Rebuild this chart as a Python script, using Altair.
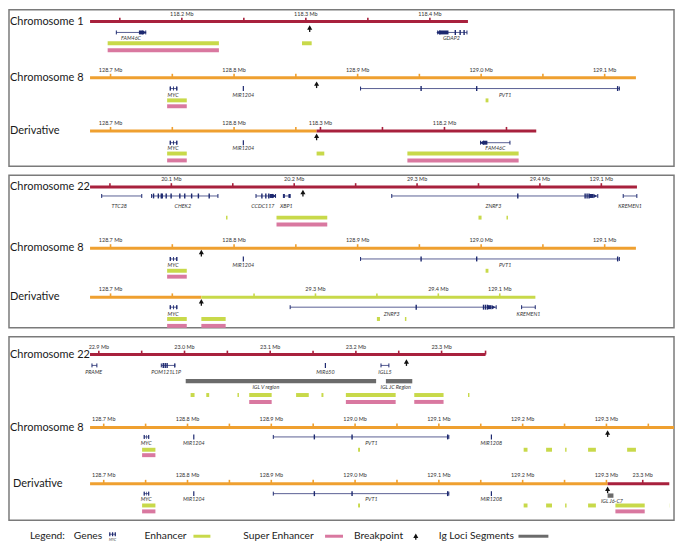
import altair as alt
import pandas as pd

# ---------------- colours ----------------
RED = "#a8213d"
ORANGE = "#efa030"
LIME = "#c8d94a"
PINK = "#d978a0"
NAVY = "#1d2970"
GENE_LINE = "#5a6094"
IG_GREY = "#6b6b6b"
FONT = "Lato"

# ================= DATA (genomic positions in Mb) =================
# ---- chromosome 1 ----
CHR1_TICKS = [118.15, 118.20, 118.25, 118.30, 118.35, 118.40]
CHR1_TICK_LABELS = ["", "118.2 Mb", "", "118.3 Mb", "", "118.4 Mb"]
CHR1_GENES = [("FAM46C", 118.1472, 118.1709, 118.1590),
              ("GDAP2", 118.4063, 118.4299, 118.4173)]
CHR1_EXONS = [118.4205, 118.4244, 118.4276]
CHR1_BLOCKS = [(118.1654, 118.1690, 118.1699, "+"),
               (118.4074, 118.4150, 118.4068, "-")]
CHR1_ENHANCERS = [(118.1402, 118.2299), (118.2969, 118.3047)]
CHR1_SUPER_ENHANCERS = [(118.1402, 118.2299)]

# ---- chromosome 8 ----
CHR8_TICKS = [128.70, 128.75, 128.80, 128.85, 128.90, 128.95, 129.00,
              129.05, 129.10, 129.15, 129.20, 129.25, 129.30, 129.35]
CHR8_TICK_LABELS = ["128.7 Mb", "", "128.8 Mb", "", "128.9 Mb", "", "129.0 Mb",
                    "", "129.1 Mb", "", "129.2 Mb", "", "129.3 Mb", ""]
CHR8_GENES = [("MYC", 128.7482, 128.7538, 128.7506),
              ("MIR1204", 128.8075, 128.8075, 128.8075),
              ("PVT1", 128.9024, 129.1119, 129.0194),
              ("MIR1208", 129.1627, 129.1627, 129.1627)]
CHR8_EXONS = [128.9514, 128.9964, 129.1105]
CHR8_BLOCKS = [(128.7482, 128.7489, 0, ""), (128.7506, 128.7513, 0, ""),
               (128.7531, 128.7538, 0, "")]
CHR8_ENHANCERS = [(128.7458, 128.7617), (129.0036, 129.0059), (129.2012, 129.2058),
                  (129.2280, 129.2350), (129.2507, 129.2524), (129.2781, 129.2874),
                  (129.3247, 129.3352)]
CHR8_SUPER_ENHANCERS = [(128.7458, 128.7617)]

# ---- chromosome 22 ----
CHR22_TICKS = [29.05, 29.10, 29.15, 29.20, 29.25, 29.30, 29.35, 29.40, 29.45,
               22.90, 22.95, 23.00, 23.05, 23.10, 23.15, 23.20, 23.25, 23.30, 23.3513]
CHR22_TICK_LABELS = ["", "20.1 Mb", "", "20.2 Mb", "", "29.3 Mb", "", "29.4 Mb", "129.1 Mb",
                     "22.9 Mb", "", "23.0 Mb", "", "23.1 Mb", "", "23.2 Mb", "", "23.3 Mb", ""]
CHR22_GENES = [("TTC28", 29.0433, 29.0759, 29.0576),
               ("CHEK2", 29.0839, 29.1379, 29.1093),
               ("CCDC117", 29.1689, 29.1848, 29.1745),
               ("XBP1", 29.1912, 29.1967, 29.1935),
               ("ZNRF3", 29.2794, 29.4471, 29.3621),
               ("KREMEN1", 29.4678, 29.4789, 29.4734),
               ("PRAME", 22.8920, 22.8977, 22.8940),
               ("POM121L1P", 22.9729, 22.9889, 22.9786),
               ("MIR650", 23.1644, 23.1644, 23.1644),
               ("IGLL5", 23.2293, 23.2385, 23.2339)]
CHR22_EXONS = [29.0855, 29.0894, 29.0918, 29.0926, 29.0958, 29.0998, 29.1069,
               29.1109, 29.1165, 29.1220, 29.1308,
               29.1737, 29.1769, 29.1793,
               29.3820, 29.4368, 29.4384, 29.4400,
               22.9752, 22.9775, 22.9797]
CHR22_BLOCKS = [(29.1800, 29.1830, 29.1838, "+"),
                (29.1912, 29.1924, 0, ""), (29.1953, 29.1967, 0, ""),
                (29.4400, 29.4432, 29.4450, "+"),
                (22.9880, 22.9889, 0, "")]
CHR22_ENHANCERS = [(29.1445, 29.1457), (29.1856, 29.2269), (29.3500, 29.3525),
                   (29.3728, 29.3740),
                   (23.0071, 23.0117), (23.0254, 23.0288), (23.0618, 23.0635),
                   (23.0755, 23.1017), (23.1302, 23.1450), (23.1598, 23.1621),
                   (23.1883, 23.2464), (23.2681, 23.3023), (23.3308, 23.3325)]
CHR22_SUPER_ENHANCERS = [(29.1856, 29.2269), (23.0755, 23.1017),
                         (23.1883, 23.2464), (23.2681, 23.3023)]
CHR22_IG_SEGMENTS = [("IGL V region", 23.0014, 23.2236, 23.0949),
                     ("IGL JC Region", 23.2350, 23.2658, 23.2464)]
DERIVATIVE_IG_SEGMENTS = [("IGL J6-C7", 23.2590, 23.2658, 23.2640)]

# breakpoints
BP_CHR1 = 118.3031
BP_CHR8 = [128.8668, 128.7735, 129.3014]
BP_CHR22 = [29.2071, 23.2590]

CHROMS = {
    "chr1": dict(ticks=CHR1_TICKS, labels=CHR1_TICK_LABELS, genes=CHR1_GENES,
                 exons=CHR1_EXONS, blocks=CHR1_BLOCKS, enh=CHR1_ENHANCERS,
                 se=CHR1_SUPER_ENHANCERS, ig=[]),
    "chr8": dict(ticks=CHR8_TICKS, labels=CHR8_TICK_LABELS, genes=CHR8_GENES,
                 exons=CHR8_EXONS, blocks=CHR8_BLOCKS, enh=CHR8_ENHANCERS,
                 se=CHR8_SUPER_ENHANCERS, ig=[]),
    "chr22": dict(ticks=CHR22_TICKS, labels=CHR22_TICK_LABELS, genes=CHR22_GENES,
                  exons=CHR22_EXONS, blocks=CHR22_BLOCKS, enh=CHR22_ENHANCERS,
                  se=CHR22_SUPER_ENHANCERS, ig=CHR22_IG_SEGMENTS),
}

# ================= LAYOUT =================
W = 667
ID = (0.0, 0.0, 1.0)  # identity alignment onto the chr8 panel axis


def track(name, y, segs, bp, nx=1, dt=-8, dg=11, dl=17, de=23, ds=29.5, da=6,
          dig=27, digl=33):
    return dict(name=name, y=y, segs=segs, bp=bp, nx=nx, dt=dt, dg=dg, dl=dl,
                de=de, ds=ds, da=da, dig=dig, digl=digl)


PANELS = [
    dict(domain=(128.61779, 129.15613), ref_h=159, height=157, tracks=[
        track("Chromosome 1", 12, [("chr1", 118.126, 118.4307, RED, (128.8581, 118.3, 1.004))],
              (0, BP_CHR1), dg=11, dl=16.5, de=22, ds=29),
        track("Chromosome 8", 69, [("chr8", 128.6834, 129.1253, ORANGE, ID)],
              (0, BP_CHR8[0]), dg=11, dl=17.5, de=23, ds=29),
        track("Derivative", 123, [("chr8", 128.6834, BP_CHR8[0], ORANGE, ID),
                                  ("chr1", 118.126, BP_CHR1, RED, (BP_CHR8[0], BP_CHR1, -1.004))],
              (0, BP_CHR8[0]), dg=12, dl=17.5, de=23, ds=30, da=5),
    ]),
    dict(domain=(128.61779, 129.15613), ref_h=155, height=153, tracks=[
        track("Chromosome 22", 12, [("chr22", 29.0338, 29.479, RED, (128.8984, 29.25, 0.9945))],
              (0, BP_CHR22[0]), dg=9, dl=19, de=31, ds=38, da=5),
        track("Chromosome 8", 74, [("chr8", 128.6834, 129.1253, ORANGE, ID)],
              (0, BP_CHR8[1]), dg=11, dl=17.5, de=23, ds=29, da=4),
        track("Derivative", 124, [("chr8", 128.6834, BP_CHR8[1], ORANGE, ID),
                                  ("chr22", BP_CHR22[0], 29.479, LIME, (BP_CHR8[1], BP_CHR22[0], 0.9945))],
              (0, BP_CHR8[1]), dg=10, dl=17, de=22, ds=29, da=4),
    ]),
    dict(domain=(128.58695, 129.38065), ref_h=186, height=184, tracks=[
        track("Chromosome 22", 18, [("chr22", 22.8897, 23.3513, RED, (128.69417, 22.9, 1.0227))],
              (0, BP_CHR22[1]), dg=11, dl=18, de=41, ds=48, da=7, dig=27, digl=33),
        track("Chromosome 8", 92, [("chr8", 128.6837, 129.38065, ORANGE, ID)],
              (0, BP_CHR8[2]), dt=-9, dg=9.5, dl=16, de=22.5, ds=28, da=5),
        track("Derivative", 149, [("chr8", 128.6837, BP_CHR8[2], ORANGE, ID),
                                  ("chr22", BP_CHR22[1], 23.331, RED, (BP_CHR8[2], BP_CHR22[1], 1.0227),
                                   DERIVATIVE_IG_SEGMENTS)],
              (0, BP_CHR8[2]), nx=4, dt=-9, dg=10, dl=15.5, de=22, ds=28, da=5, dig=12, digl=17),
    ]),
]


def build(tracks):
    L = {k: [] for k in ["line", "tick", "rect", "tri", "tlab", "glab", "name"]}
    eps = 1e-6
    for tr in tracks:
        y = tr["y"]
        L["name"].append(dict(y=y, t=tr["name"], px=tr["nx"]))
        maps = []
        for seg in tr["segs"]:
            ch, lo, hi, col, (a, b, k) = seg[:5]
            X = (lambda m, a=a, b=b, k=k: a + k * (m - b))
            maps.append(X)
            D = CHROMS[ch]
            L["line"].append(dict(x=X(lo), x2=X(hi), y=y, c=col, w=3))
            for t, lab in zip(D["ticks"], D["labels"]):
                if lo - eps <= t <= hi + eps:
                    L["tick"].append(dict(x=X(t), y=y, y2=y - 4, c=col, w=1.6))
                    if lab:
                        L["tlab"].append(dict(x=X(t), y=y + tr["dt"], t=lab))
            yg = y + tr["dg"]
            for name, s, e, lp in D["genes"]:
                if lo - eps <= s and e <= hi + 0.0005:
                    if e - s > 0:
                        L["line"].append(dict(x=X(s), x2=X(e), y=yg, c=GENE_LINE, w=1))
                        for cap in (s, e):
                            L["tick"].append(dict(x=X(cap), y=yg - 2, y2=yg + 2, c=NAVY, w=1))
                    else:
                        L["tick"].append(dict(x=X(s), y=yg - 2.5, y2=yg + 2.5, c=NAVY, w=1.2))
                    L["glab"].append(dict(x=X(lp), y=y + tr["dl"], t=name))
            for ex in D["exons"]:
                if lo <= ex <= hi:
                    L["tick"].append(dict(x=X(ex), y=yg - 2.5, y2=yg + 2.5, c=NAVY, w=1.4))
            for s, e, ar, d in D["blocks"]:
                if lo <= s and e <= hi:
                    L["rect"].append(dict(x=X(s), x2=X(e), y=yg - 2, y2=yg + 2, c=NAVY))
                    if d:
                        right = (d == "+") == (k > 0)
                        L["tri"].append(dict(x=X(ar), y=yg, sh="triangle-right" if right else "triangle-left",
                                             c=NAVY, z=20))
            for lst, dy, col2 in ((D["enh"], tr["de"], LIME), (D["se"], tr["ds"], PINK)):
                for s, e in lst:
                    s2, e2 = max(s, lo), min(e, hi)
                    if s2 < e2:
                        L["rect"].append(dict(x=X(s2), x2=X(e2), y=y + dy - 2, y2=y + dy + 2, c=col2))
            ig = seg[5] if len(seg) > 5 else D["ig"]
            for name, s, e, lp in ig:
                if lo - eps <= s and e <= hi + eps:
                    L["rect"].append(dict(x=X(s), x2=X(e), y=y + tr["dig"] - 2.2,
                                          y2=y + tr["dig"] + 2.2, c=IG_GREY))
                    L["glab"].append(dict(x=X(lp), y=y + tr["digl"], t=name))
        si, bp = tr["bp"]
        bx = maps[si](bp)
        ya = y + tr["da"]
        L["tri"].append(dict(x=bx, y=ya, sh="triangle-up", c="#111111", z=26))
        L["tick"].append(dict(x=bx, y=ya, y2=ya + 4.5, c="#111111", w=1.3))
    return L


def panel(p):
    L = build(p["tracks"])
    xs = alt.Scale(domain=list(p["domain"]), nice=False, zero=False)
    ys = alt.Scale(domain=[0, p["ref_h"]], reverse=True, nice=False, zero=False)
    xq = alt.X("x:Q", scale=xs, axis=None)
    yq = alt.Y("y:Q", scale=ys, axis=None)
    col = alt.Color("c:N", scale=None)
    layers = []
    layers.append(alt.Chart(pd.DataFrame(L["line"])).mark_rule().encode(
        x=xq, x2="x2:Q", y=yq, color=col, strokeWidth=alt.StrokeWidth("w:Q", scale=None)))
    layers.append(alt.Chart(pd.DataFrame(L["tick"])).mark_rule().encode(
        x=xq, y=yq, y2="y2:Q", color=col, strokeWidth=alt.StrokeWidth("w:Q", scale=None)))
    layers.append(alt.Chart(pd.DataFrame(L["rect"])).mark_rect().encode(
        x=xq, x2="x2:Q", y=yq, y2="y2:Q", color=col))
    layers.append(alt.Chart(pd.DataFrame(L["tri"])).mark_point(filled=True, opacity=1).encode(
        x=xq, y=yq, shape=alt.Shape("sh:N", scale=None), color=col,
        size=alt.Size("z:Q", scale=None)))
    layers.append(alt.Chart(pd.DataFrame(L["tlab"])).mark_text(
        font=FONT, fontSize=5.5, color="#333333", baseline="middle").encode(x=xq, y=yq, text="t:N"))
    layers.append(alt.Chart(pd.DataFrame(L["glab"])).mark_text(
        font=FONT, fontSize=5.4, fontStyle="italic", color="#333333", baseline="middle").encode(
        x=xq, y=yq, text="t:N"))
    for n in L["name"]:
        layers.append(alt.Chart(pd.DataFrame([n])).mark_text(
            font=FONT, fontSize=11, color="#1a1a1a", align="left", baseline="middle").encode(
            x=alt.value(n["px"]), y=yq, text="t:N"))
    return alt.layer(*layers).properties(width=W, height=p["height"])


# ---------------- legend ----------------
LEGEND_LABELS = ["Legend:", "Genes", "Enhancer", "Super Enhancer", "Breakpoint", "Ig Loci Segments"]
LEGEND_TEXT_X = [21, 65, 136, 235, 346, 431]
LEGEND_SWATCH = [(185, 202, LIME), (317, 335, PINK), (511, 541, IG_GREY)]
LH = 14
lxs = alt.Scale(domain=[0, W], nice=False, zero=False)
lys = alt.Scale(domain=[0, LH], reverse=True, nice=False, zero=False)
lx = alt.X("x:Q", scale=lxs, axis=None)
ly = alt.Y("y:Q", scale=lys, axis=None)
leg_text = pd.DataFrame(dict(x=LEGEND_TEXT_X, y=[7] * 6, t=LEGEND_LABELS))
leg_rect = pd.DataFrame([dict(x=a, x2=b, y=5.5, y2=8.5, c=c) for a, b, c in LEGEND_SWATCH]
                        + [dict(x=100.5, x2=101.7, y=3, y2=7, c=NAVY), dict(x=103.3, x2=104.5, y=3, y2=7, c=NAVY),
                           dict(x=106, x2=107.2, y=3, y2=7, c=NAVY)])
leg_line = pd.DataFrame([dict(x=100.5, x2=107.2, y=5)])
leg_tri = pd.DataFrame([dict(x=408, y=6.5)])
legend = alt.layer(
    alt.Chart(leg_text).mark_text(font=FONT, fontSize=10.3, color="#222222", align="left",
                                  baseline="middle").encode(x=lx, y=ly, text="t:N"),
    alt.Chart(leg_line).mark_rule(color=GENE_LINE, strokeWidth=1).encode(x=lx, x2="x2:Q", y=ly),
    alt.Chart(leg_rect).mark_rect().encode(x=lx, x2="x2:Q", y=ly, y2="y2:Q",
                                           color=alt.Color("c:N", scale=None)),
    alt.Chart(pd.DataFrame([dict(x=103.9, y=10.5, t="MYC")])).mark_text(
        font=FONT, fontSize=3.5, fontStyle="italic", color="#333333", baseline="middle").encode(
        x=lx, y=ly, text="t:N"),
    alt.Chart(leg_tri).mark_point(shape="triangle-up", filled=True, color="#111111", size=26,
                                  opacity=1).encode(x=lx, y=ly),
    alt.Chart(pd.DataFrame([dict(x=408, y=6.5, y2=10.5)])).mark_rule(color="#111111", strokeWidth=1.3).encode(
        x=lx, y=ly, y2="y2:Q"),
).properties(width=W, height=LH, view=alt.ViewBackground(stroke="transparent"))

chart = alt.vconcat(*[panel(p) for p in PANELS], legend, spacing=7).properties(
    padding=0).configure_view(stroke="#7a7a7a", strokeWidth=1.5)

chart.save("out.html", embed_options={"renderer": "svg", "actions": False})
